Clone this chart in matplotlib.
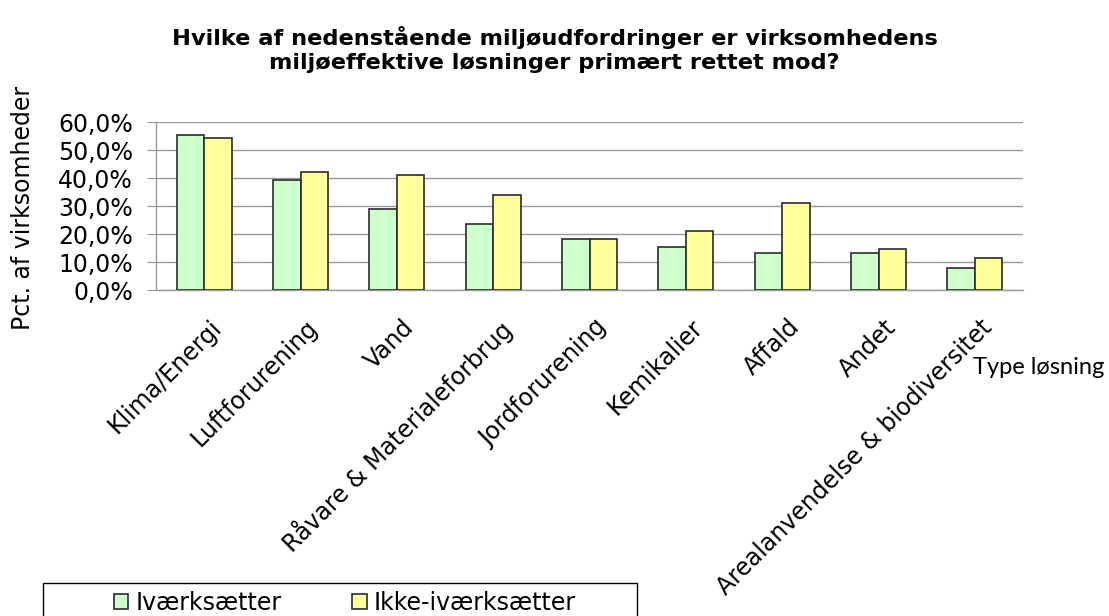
import numpy as np
import matplotlib
matplotlib.use("Agg")
import matplotlib.pyplot as plt
from matplotlib.ticker import FuncFormatter
from matplotlib.patches import Rectangle
from matplotlib.transforms import ScaledTranslation

# data (share of firms)
categories = ["Klima/Energi", "Luftforurening", "Vand", "Råvare & Materialeforbrug",
              "Jordforurening", "Kemikalier", "Affald", "Andet",
              "Arealanvendelse & biodiversitet"]
ivaerksaetter = [0.554, 0.394, 0.288, 0.237, 0.182, 0.155, 0.132, 0.132, 0.077]
ikke_ivaerksaetter = [0.544, 0.421, 0.411, 0.338, 0.182, 0.210, 0.311, 0.146, 0.114]
series_names = ["Iværksætter", "Ikke-iværksætter"]

title = "Hvilke af nedenstående miljøudfordringer er virksomhedens\nmiljøeffektive løsninger primært rettet mod?"

plt.rcParams['font.family'] = ['DejaVu Sans']

fig = plt.figure(figsize=(11.09, 6.16), dpi=100)
ax = fig.add_axes([0.1407, 0.5292, 0.7818, 0.2727])

x = np.arange(len(categories))
w = 0.285
ax.bar(x - w/2, ivaerksaetter, w, color="#CCFFCC", edgecolor="#2b2b2b", linewidth=1.2,
       label=series_names[0], zorder=3)
ax.bar(x + w/2, ikke_ivaerksaetter, w, color="#FFFF99", edgecolor="#2b2b2b", linewidth=1.2,
       label=series_names[1], zorder=3)

ax.set_xlim(-0.5, len(categories) - 0.5)
ax.set_ylim(0, 0.6)
ax.set_yticks(np.arange(0, 0.61, 0.1))
ax.yaxis.set_major_formatter(FuncFormatter(lambda v, p: f"{v*100:.1f}%".replace(".", ",")))
ax.grid(axis="y", color="#999999", linewidth=1.0, zorder=0)

for s in ["top", "right"]:
    ax.spines[s].set_visible(False)
for s in ["left", "bottom"]:
    ax.spines[s].set_color("#999999")
    ax.spines[s].set_linewidth(1.0)

ax.tick_params(axis="y", length=6.5, color="#999999", pad=10, labelsize=17)
ax.tick_params(axis="x", length=0, pad=18, labelsize=17)
ax.set_xticks(x)
ax.set_xticklabels(categories, rotation=45, ha="right", va="top", rotation_mode="anchor")
for lab in ax.get_xticklabels():
    lab.set_transform(lab.get_transform() + ScaledTranslation(0.05, 0, fig.dpi_scale_trans))

ax.set_ylabel("Pct. af virksomheder", fontsize=17)
ax.yaxis.set_label_coords(-0.14, 0.49)
ax.set_xlabel("Type løsning", fontsize=17, family="Lato", va="center", ha="center")
ax.xaxis.set_label_coords(1.0185, -0.464)

fig.suptitle(title, fontsize=16.2, fontweight="bold", y=1 - 26/616, va="top", linespacing=1.25)

# legend in a box that runs off the bottom edge
fig.patches.append(Rectangle((43/1109, -0.05), 594/1109, 0.05 + 1 - 583/616,
                             transform=fig.transFigure, fill=False,
                             edgecolor="#000000", linewidth=1.0))
fig.legend(loc="center", bbox_to_anchor=(345/1109, 1 - 603/616), ncol=2, frameon=False,
           fontsize=17, handlelength=0.6, handleheight=0.6, handletextpad=0.3,
           columnspacing=3.0, borderpad=0)

fig.savefig("out.png", dpi=100)
